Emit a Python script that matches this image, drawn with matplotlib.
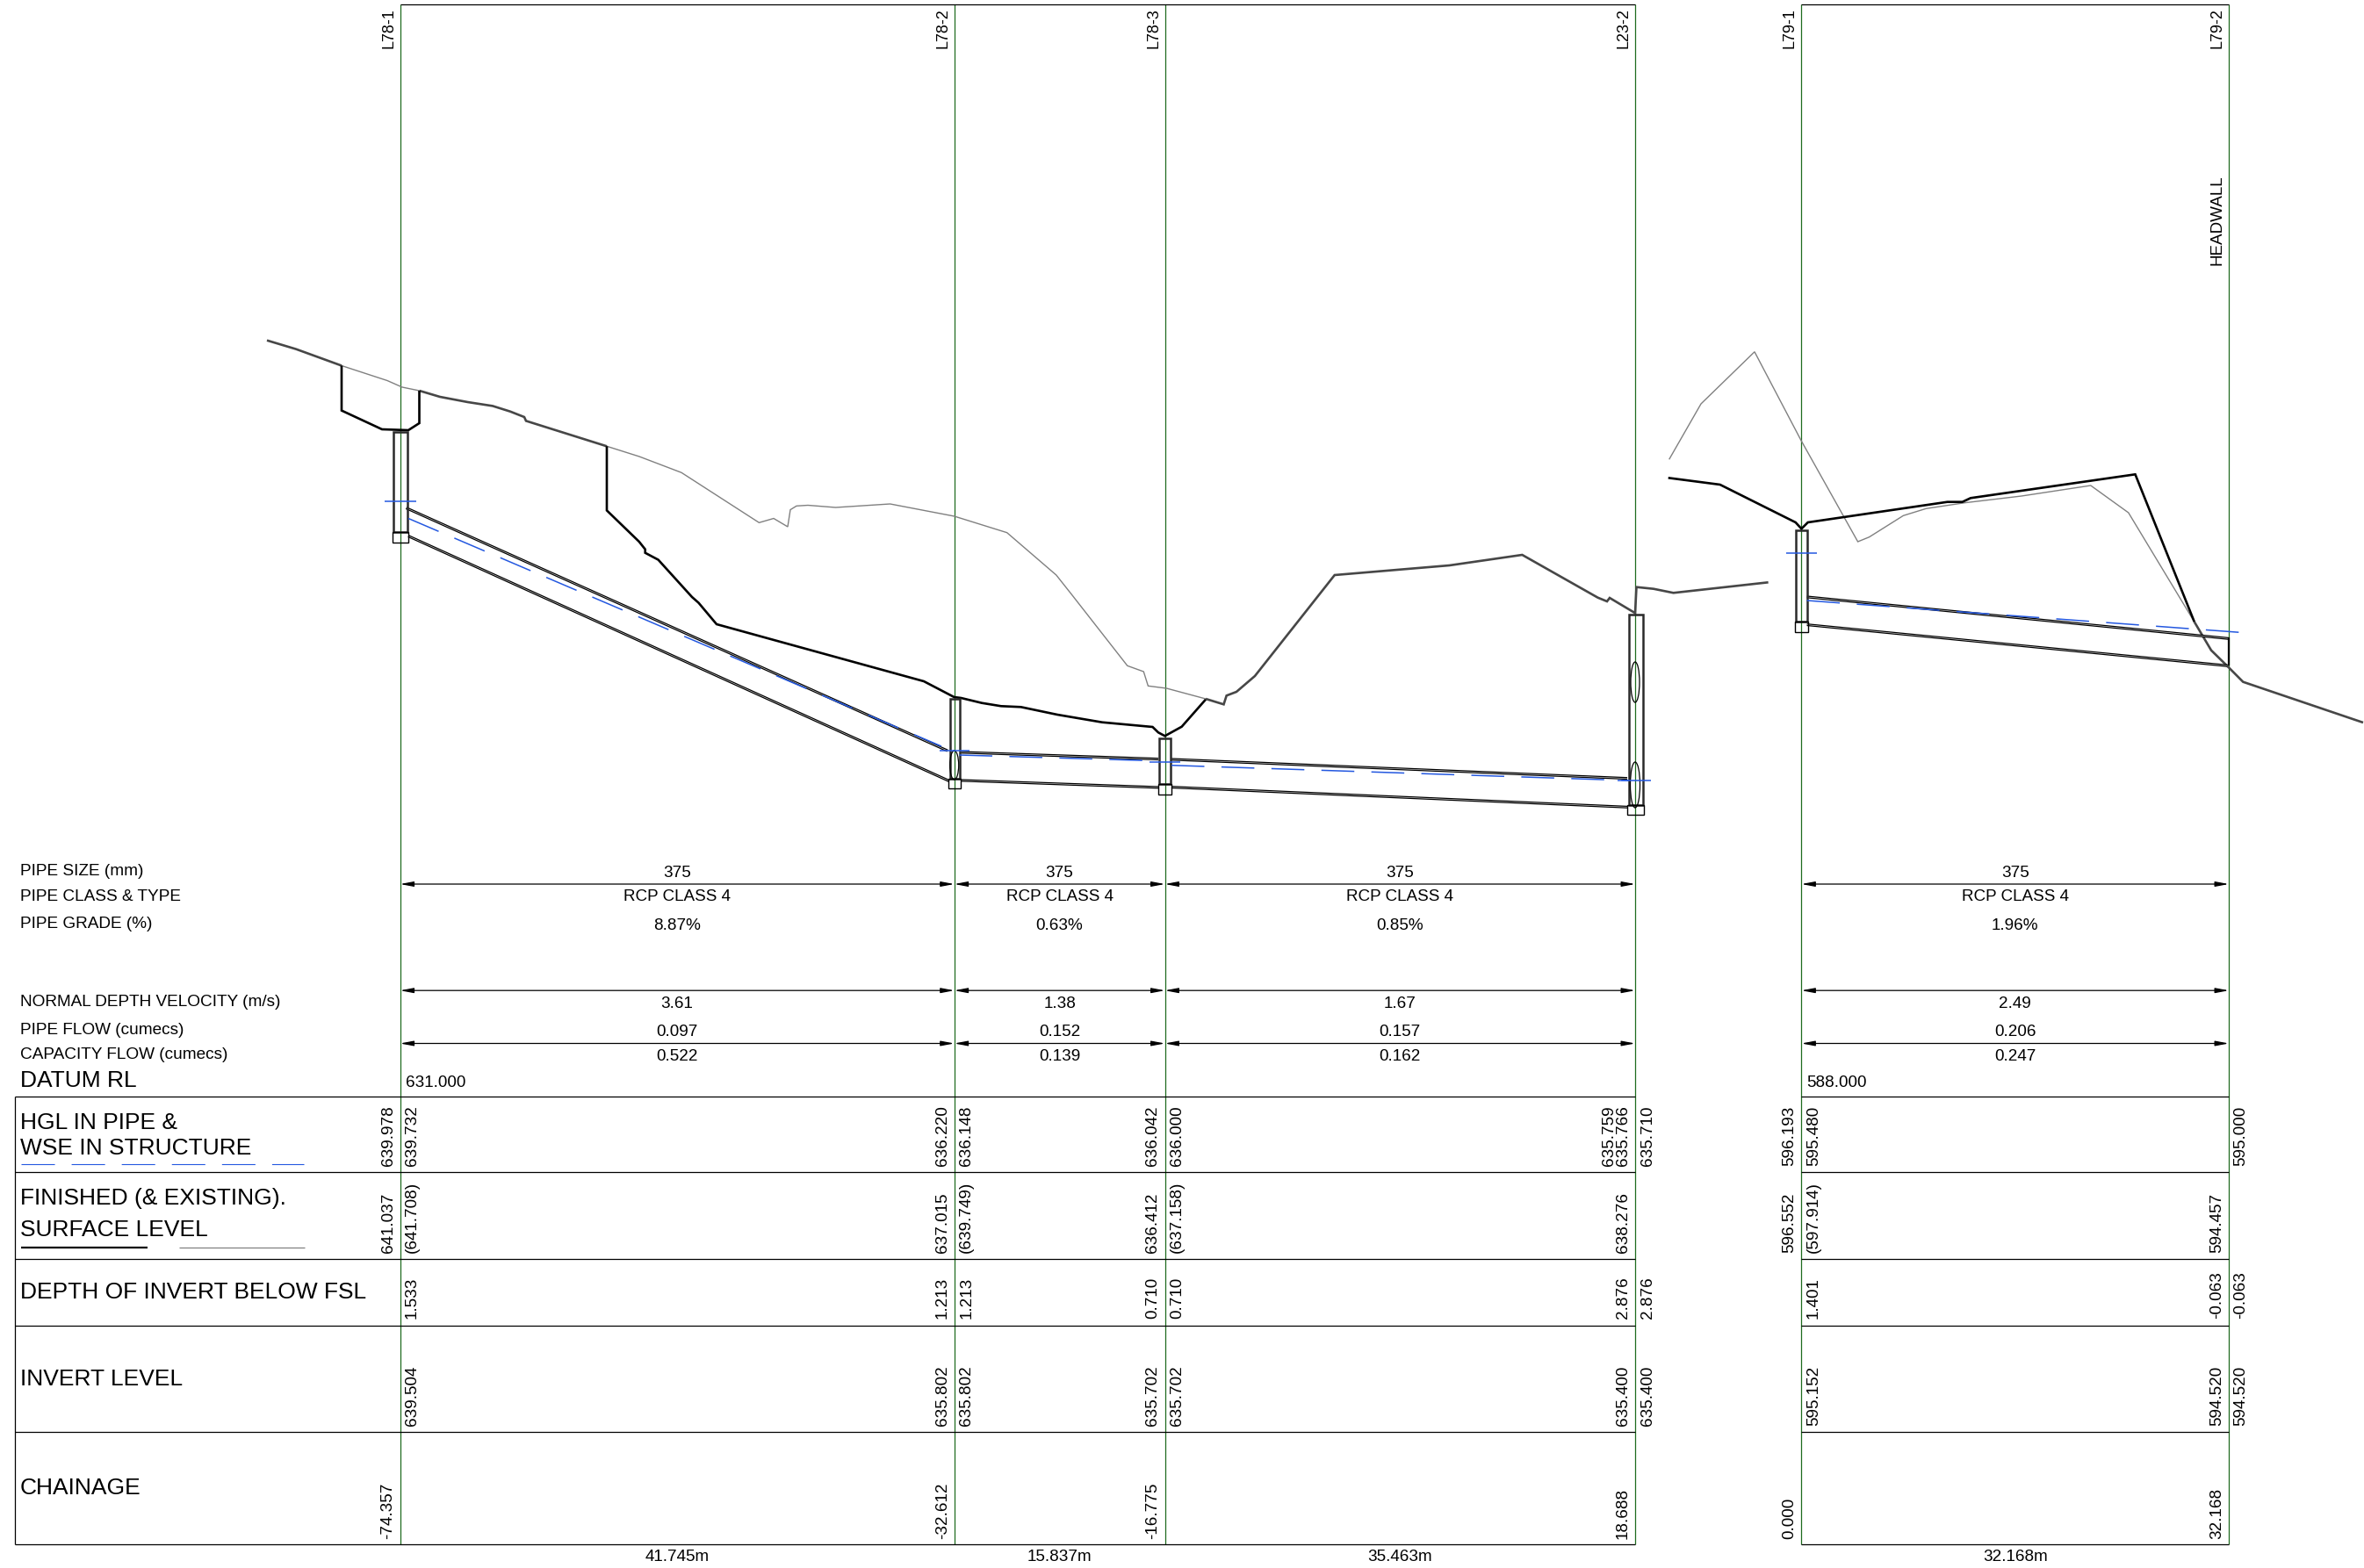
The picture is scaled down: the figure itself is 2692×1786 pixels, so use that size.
import matplotlib
matplotlib.use("Agg")
import matplotlib.pyplot as plt
from matplotlib.patches import Rectangle, Ellipse

plt.rcParams['font.family'] = ['Liberation Sans', 'DejaVu Sans']
plt.rcParams['lines.scale_dashes'] = False
plt.rcParams['lines.solid_capstyle'] = 'butt'

# ---- stations ----
station_names = ["L78-1", "L78-2", "L78-3", "L23-2", "L79-1", "L79-2"]
station_x = [455.6, 1086.7, 1326.5, 1862.0, 2051.4, 2538.0]

# ---- table values per station: (left of line, right of line) ----
hgl = [("639.978", "639.732"), ("636.220", "636.148"), ("636.042", "636.000"),
       ("635.766", "635.710"), ("596.193", "595.480"), (None, "595.000")]
surface = [("641.037", "(641.708)"), ("637.015", "(639.749)"), ("636.412", "(637.158)"),
           ("638.276", None), ("596.552", "(597.914)"), ("594.457", None)]
depth = [(None, "1.533"), ("1.213", "1.213"), ("0.710", "0.710"),
         ("2.876", "2.876"), (None, "1.401"), ("-0.063", "-0.063")]
invert = [(None, "639.504"), ("635.802", "635.802"), ("635.702", "635.702"),
          ("635.400", "635.400"), (None, "595.152"), ("594.520", "594.520")]
chainage = [("-74.357", None), ("-32.612", None), ("-16.775", None),
            ("18.688", None), ("0.000", None), ("32.168", None)]

# ---- per-pipe values ----
pipe_from = [0, 1, 2, 4]
pipe_to = [1, 2, 3, 5]
pipe_size = ["375", "375", "375", "375"]
pipe_class = ["RCP CLASS 4"] * 4
pipe_grade = ["8.87%", "0.63%", "0.85%", "1.96%"]
velocity = ["3.61", "1.38", "1.67", "2.49"]
pipe_flow = ["0.097", "0.152", "0.157", "0.206"]
capacity = ["0.522", "0.139", "0.162", "0.247"]
length = ["41.745m", "15.837m", "35.463m", "32.168m"]

# ---- long-section profile, drawing units (sheet pixels) ----
existing_a = [(389, 416.5), (441, 433.5), (458, 441), (477.5, 445)]
existing_b = [(691, 508.3), (728, 520), (776, 538.3), (864.4, 595.3), (881, 590.5),
              (897, 600), (900, 580.6), (907, 576.3), (920, 575.5), (951.6, 578),
              (1013.6, 574), (1086.7, 588), (1146.7, 606.7), (1202.8, 655),
              (1220, 676.7), (1283.8, 758.3), (1302.3, 765), (1307.4, 781.3),
              (1328.4, 784), (1373, 796)]
existing_c = [(1900.7, 523.3), (1937, 460), (1998, 400.7), (2051, 501.7), (2115.6, 617),
              (2128.6, 611.7), (2167.4, 587.3), (2193.3, 579.3), (2237.3, 572.7),
              (2302, 565), (2380.8, 553), (2423.8, 584), (2498.8, 708.3)]
common_a = [(304, 387.7), (337, 397.6), (389, 416.5)]
common_b = [(477.5, 445), (501, 452), (532.6, 458), (561, 462.4), (581, 468.7),
            (597, 475), (599, 479.4), (691, 508.3)]
common_c = [(1373, 796), (1393.5, 802.3), (1396.7, 792.3), (1408, 788), (1429, 770),
            (1519.8, 655), (1650.5, 644), (1733.4, 632), (1819.5, 680.7), (1830, 685),
            (1833, 681), (1862, 698.3), (1863.5, 668.7), (1883, 670.7), (1905.6, 675.3),
            (2013.6, 663.3)]
common_d = [(2498.8, 708.3), (2518, 740.7), (2537.7, 760), (2554.3, 776.7), (2691, 823)]
finished_a = [(389, 416.5), (389, 467.6), (435, 489), (465, 490), (477.5, 482), (477.5, 445)]
finished_b = [(691, 508.3), (691, 581.4), (727.8, 617), (734.7, 625.7), (734.7, 629.7),
              (749.6, 637.6), (788, 680), (795.5, 686.6), (816, 711), (1052, 776),
              (1086.5, 794), (1094.4, 795), (1118, 800.7), (1140, 804.3), (1162.6, 805.3),
              (1204, 814), (1255, 822.7), (1312.5, 828), (1319, 834.3), (1326.5, 838.3),
              (1345.7, 827.7), (1373, 796.7)]
finished_c = [(1899.7, 544.3), (1958.7, 552), (2044.7, 595), (2051.4, 602.3), (2058.7, 595),
              (2217.6, 571.7), (2234.7, 571.7), (2244, 567.3), (2431.5, 540.3), (2498.8, 708.3)]

pipe_obvert = [[(462.5, 577), (1079, 853.5)], [(1094.4, 855.3), (1319, 863)],
               [(1334, 863.3), (1853, 885)], [(2057.6, 678.3), (2537.7, 725.7)]]
pipe_invert = [[(465, 609), (1081, 888)], [(1094.4, 887.3), (1319, 895.3)],
               [(1334, 895), (1853, 917.7)], [(2057.6, 710), (2536.6, 756.7)]]
pipe_hgl = [[(465, 590.5), (1072, 850)], [(1092.5, 860), (1319, 866.7)],
            [(1334, 871.7), (1854.6, 889)], [(2057.6, 684), (2550.6, 720.3)]]

# structure: left, right, top, floor line, bottom, wse y, wse left, wse right
structures = [(446.5, 464.8, 490.5, 606.3, 617.8, 570.8, 437.9, 474),
              (1080.4, 1094.4, 794.3, 886.7, 897.7, 854.7, 1070, 1104),
              (1319, 1334, 840, 893.3, 905.3, 867.7, 1309, 1344),
              (1853.3, 1871.8, 699, 916.7, 928.3, 889, 1842, 1880),
              (2044.2, 2059.2, 602.7, 708.3, 720, 630, 2034, 2068.5)]
ellipses = [(1086.7, 871.5, 10, 33), (1862, 777, 10, 46), (1862, 894, 11, 52)]

row_lines = [1249, 1335, 1433.5, 1509.5, 1631, 1758.5]

GREEN = '#1f6b1f'
BLUE = '#2458e0'
DARK = '#474747'
GREY = '#808080'
SMALL = 13.6
TAG = 13.0
LABEL = 13.7
LARGE = 19.0

fig = plt.figure(figsize=(26.92, 17.86), dpi=100)
ax = fig.add_axes([0, 0, 1, 1])
ax.set_xlim(0, 2692)
ax.set_ylim(1786, 0)
ax.axis('off')


def poly(pts, **kw):
    ax.plot([p[0] for p in pts], [p[1] for p in pts], solid_joinstyle='miter', **kw)


# table frame
ax.plot([17.2, 17.2], [row_lines[0], row_lines[-1]], color='k', lw=0.9)
for y in row_lines:
    ax.plot([17.2, station_x[3]], [y, y], color='k', lw=0.9)
    ax.plot([station_x[4], station_x[5]], [y, y], color='k', lw=0.9)
for a, b in ((station_x[0], station_x[3]), (station_x[4], station_x[5])):
    ax.plot([a, b], [5, 5], color='k', lw=0.9)

# verticals and names
for x, name in zip(station_x, station_names):
    ax.plot([x, x], [5, row_lines[-1]], color=GREEN, lw=0.9, zorder=1)
    ax.text(x - 13, 9, name, rotation=90, ha='center', va='top', fontsize=TAG)
ax.text(2525, 250.7, "HEADWALL", rotation=90, ha='center', va='center', fontsize=SMALL)

# dimension arrows
for y in (1007, 1128.2, 1188.5):
    for i, j in zip(pipe_from, pipe_to):
        ax.annotate('', xy=(station_x[j], y), xytext=(station_x[i], y),
                    arrowprops=dict(arrowstyle='<|-|>,head_length=0.9,head_width=0.17',
                                    mutation_scale=10, shrinkA=0, shrinkB=0, lw=0.9,
                                    fc='k', ec='k'))

# per-pipe rows
rows = [(pipe_size, 994.5), (pipe_class, 1021), (pipe_grade, 1054.8), (velocity, 1143),
        (pipe_flow, 1175.5), (capacity, 1203), (length, 1773.5)]
for vals, y in rows:
    for v, i, j in zip(vals, pipe_from, pipe_to):
        ax.text((station_x[i] + station_x[j]) / 2, y, v, ha='center', va='center',
                fontsize=SMALL)
ax.text(462, 1233.8, "631.000", ha='left', va='center', fontsize=SMALL)
ax.text(2057, 1233.8, "588.000", ha='left', va='center', fontsize=SMALL)

# row labels
small_labels = [("PIPE SIZE (mm)", 992.4), ("PIPE CLASS & TYPE", 1021), ("PIPE GRADE (%)", 1052.8),
                ("NORMAL DEPTH VELOCITY (m/s)", 1141), ("PIPE FLOW (cumecs)", 1174),
                ("CAPACITY FLOW (cumecs)", 1201)]
for t, y in small_labels:
    ax.text(23, y, t, ha='left', va='center', fontsize=LABEL)
large_labels = [("DATUM RL", 1231), ("HGL IN PIPE &", 1278.5), ("WSE IN STRUCTURE", 1308),
                ("FINISHED (& EXISTING).", 1365.4), ("SURFACE LEVEL", 1400.8),
                ("DEPTH OF INVERT BELOW FSL", 1472), ("INVERT LEVEL", 1571), ("CHAINAGE", 1695.5)]
for t, y in large_labels:
    ax.text(23, y, t, ha='left', va='center', fontsize=LARGE)
ax.plot([24, 346], [1326, 1326], color=BLUE, lw=0.8, dashes=(27.4, 13.7))
ax.plot([23.5, 167.6], [1421.3, 1421.3], color='k', lw=1.6)
ax.plot([203.8, 347.3], [1421.3, 1421.3], color=GREY, lw=0.9)

# rotated station values
table = [(hgl, 1328), (surface, 1427), (depth, 1502.5), (invert, 1624), (chainage, 1753)]
for vals, y in table:
    for x, (l, r) in zip(station_x, vals):
        if l:
            ax.text(x - 13.5, y, l, rotation=90, ha='center', va='bottom', fontsize=SMALL)
        if r:
            ax.text(x + 14, y, r, rotation=90, ha='center', va='bottom', fontsize=SMALL)
ax.text(station_x[3] - 29.5, 1328, "635.759", rotation=90, ha='center', va='bottom', fontsize=SMALL)

# profile
for pts in (existing_a, existing_b, existing_c):
    poly(pts, color=GREY, lw=1.0, zorder=3)
for pts in (common_a, common_b, common_c, common_d):
    poly(pts, color=DARK, lw=1.9, zorder=3)
for pts in (finished_a, finished_b, finished_c):
    poly(pts, color='k', lw=1.9, zorder=3)

# pipes: twin walls
for pts in pipe_obvert + pipe_invert:
    shifted = [(p[0], p[1] + 1.6) for p in pts]
    poly(shifted, color='k', lw=2.2, zorder=4)
    poly(shifted, color='#d8d8d8', lw=0.45, zorder=4)
ax.plot([station_x[5]] * 2, [725.7, 758], color='k', lw=1.6, zorder=4)

# structures
for l, r, top, floor, bot, wy, wl, wr in structures:
    ax.add_patch(Rectangle((l + 1.2, top + 1.2), r - l - 2.4, floor - top - 1.2, fc='none',
                           ec='#2a2a2a', lw=1.8, joinstyle='miter', zorder=4))
    ax.add_patch(Rectangle((l, floor), r - l, bot - floor, fc='none', ec='k', lw=1.0, zorder=4))
    ax.plot([wl, wr], [wy, wy], color=BLUE, lw=1.1, zorder=6)
for cx, cy, w, h in ellipses:
    ax.add_patch(Ellipse((cx, cy), w, h, fc='none', ec='k', lw=0.9, zorder=5))

# hydraulic grade lines
for pts in pipe_hgl:
    poly(pts, color=BLUE, lw=1.1, dashes=(27, 14), zorder=6)

fig.savefig('out.png', dpi=100, facecolor='white')
